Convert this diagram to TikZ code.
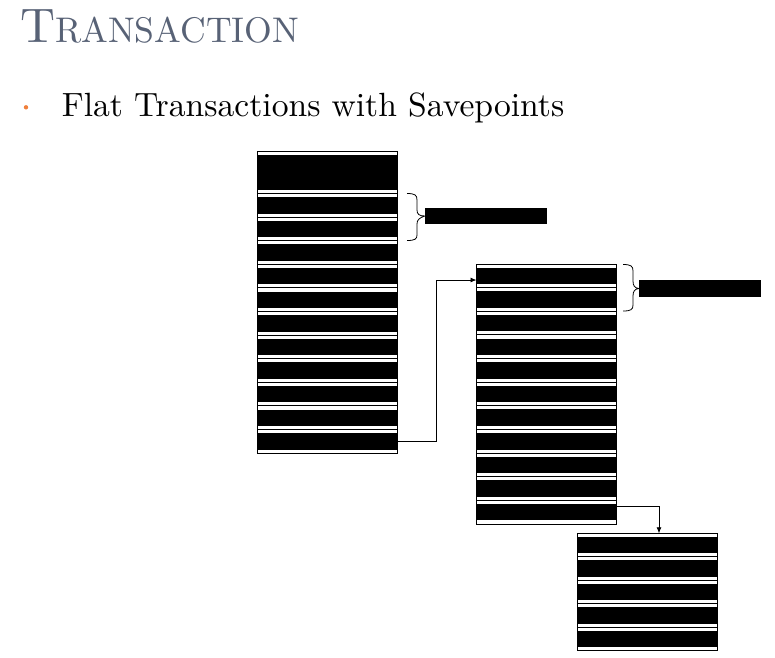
\documentclass[tikz,border=0pt]{standalone}
\usepackage{fontspec}
\setmainfont{lmroman10-regular.otf}
\usetikzlibrary{arrows.meta}
\definecolor{titlegray}{RGB}{88,98,118}
\definecolor{bulletorange}{RGB}{240,128,60}
\begin{document}
\begin{tikzpicture}[x=1pt,y=-1pt,
  cell/.style={draw=black, line width=0.9pt, fill=white, minimum width=140pt,
    minimum height=#1, inner sep=0pt, outer sep=0pt,
    path picture={\fill[black]
      ([yshift=-3.6pt]path picture bounding box.north west) rectangle
      ([yshift=3.6pt]path picture bounding box.south east);}},
  cell/.default=23.6pt,
  label box/.style={fill=black, minimum width=122pt, minimum height=16.5pt, inner sep=0pt},
  flow/.style={draw=black, line width=0.8pt, -{Latex[length=6pt,width=5pt]}},
  bracket/.style={draw=black, line width=0.8pt}
]
\useasboundingbox (0,0) rectangle (775,657);

% heading (capital T, smaller capitals after it) and bullet line
\node[anchor=base west, inner sep=0pt, text=titlegray]
  (title) at (20,42.3) {\fontsize{48.5}{56}\selectfont T\fontsize{35.6}{42}\selectfont RANSACTION};
\fill[bulletorange] (26,107.3) circle (2.2pt);
\node[anchor=base west, inner sep=0pt, font=\fontsize{33.6}{40}\selectfont]
  (item) at (61.7,116.3) {Flat Transactions with Savepoints};

% first transaction: a tall head cell and eleven steps
\node[cell=42.5pt] (a0) at (327,172.25) {};
\foreach \i in {1,...,11}{
  \node[cell] (a\i) at (327,{193.5+(\i-1)*23.6+11.8}) {};
}

% second transaction: eleven steps
\foreach \i in {1,...,11}{
  \node[cell=23.64pt] (b\i) at (546.5,{264+(\i-1)*23.64+11.82}) {};
}

% third transaction: five steps
\foreach \i in {1,...,5}{
  \node[cell=23.5pt] (c\i) at (647.3,{533.3+(\i-1)*23.5+11.75}) {};
}

% savepoint labels
\node[label box] (s1) at (486,216) {};
\node[label box] (s2) at (700,288.5) {};

% braces grouping the steps belonging to each savepoint
\draw[bracket] (407,193.5) .. controls (415,193.5) and (417,195) .. (417,200)
  -- (417,210) .. controls (417,214) and (419,216) .. (s1.west)
  .. controls (419,218) and (417,220) .. (417,224)
  -- (417,235) .. controls (417,239) and (415,240.5) .. (407,240.5);
\draw[bracket] (623,264.5) .. controls (631,264.5) and (633,266) .. (633,271)
  -- (633,281) .. controls (633,285.5) and (634.5,288) .. (s2.west)
  .. controls (634.5,289) and (633,291.5) .. (633,296)
  -- (633,305) .. controls (633,309.5) and (631,311) .. (623,311);

% links to the next transaction
\draw[flow] (a11.east) -- ++(39,0) |- ([yshift=-4.2pt]b1.west);
\draw[flow] ([yshift=5.5pt]b11.east) -| ([xshift=11.7pt]c1.north);
\end{tikzpicture}
\end{document}
